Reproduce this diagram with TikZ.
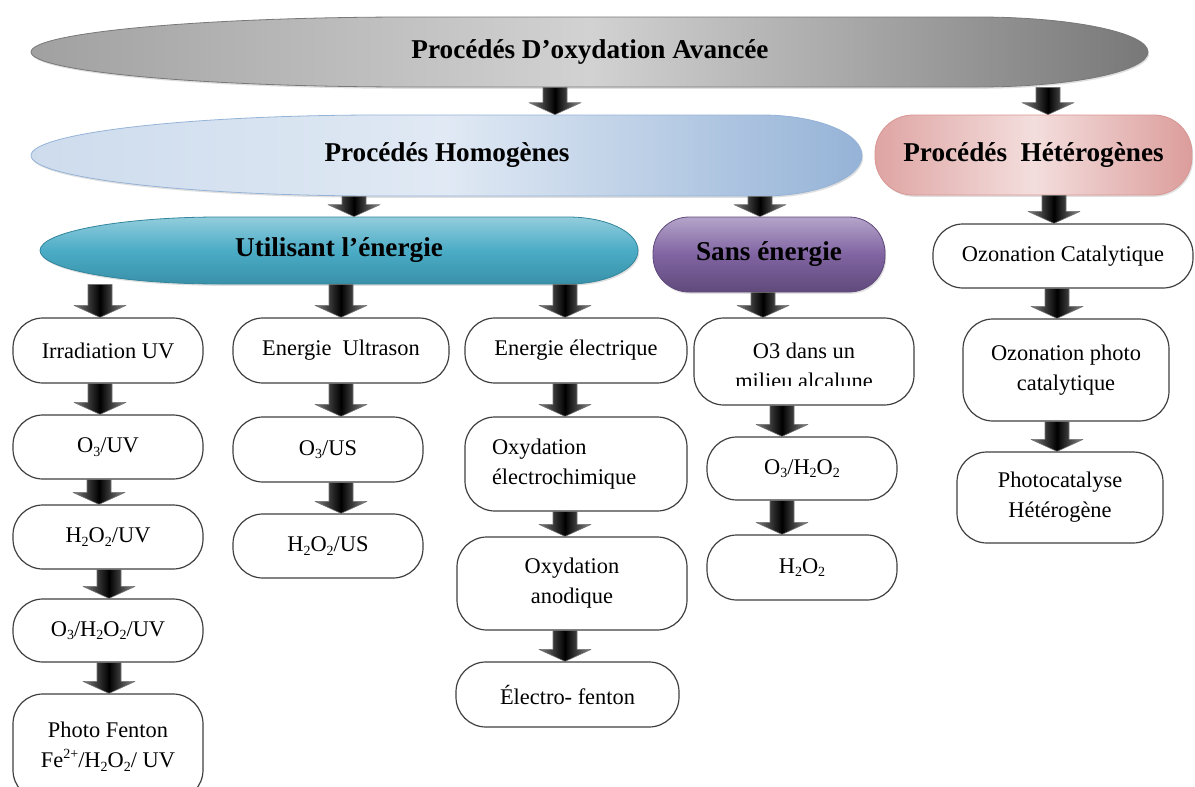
\documentclass[tikz,border=0pt]{standalone}
\usepackage{fontspec}
\setmainfont{Liberation Serif}
\usetikzlibrary{calc,shadows}

\definecolor{grisC}{RGB}{210,210,210}
\definecolor{grisF}{RGB}{120,120,120}
\definecolor{bleuC}{RGB}{224,233,244}
\definecolor{bleuF}{RGB}{149,179,215}
\definecolor{turqC}{RGB}{146,205,220}
\definecolor{turqM}{RGB}{75,172,198}
\definecolor{turqF}{RGB}{49,133,156}
\definecolor{violC}{RGB}{180,164,201}
\definecolor{violM}{RGB}{128,100,162}
\definecolor{violF}{RGB}{96,74,123}
\definecolor{roseC}{RGB}{243,222,221}
\definecolor{roseF}{RGB}{217,150,148}

\tikzset{
  boite/.style={draw=black!75, line width=0.6pt, fill=white, rounded corners=15pt,
    align=center, inner sep=0pt, font=\fontsize{11.2}{15}\selectfont},
  titre/.style={inner sep=0pt, font=\fontsize{13.6}{16}\selectfont\bfseries},
  ombre/.style={drop shadow={opacity=0.25, shadow xshift=0.6pt, shadow yshift=-0.9pt}},
  fleche/.style={left color=black!50, right color=black!45, middle color=black,
    draw=black!55, line width=0.3pt},
}

% indices et exposants plus petits
\newcommand{\ind}[1]{\raisebox{-0.35ex}{\fontsize{7}{7}\selectfont #1}}
\newcommand{\expo}[1]{\raisebox{0.9ex}{\fontsize{7}{7}\selectfont #1}}

% forme allongee : x1, x2, y1, y2, demi-axe gauche, demi-axe droit, options
\newcommand{\capsule}[7]{%
  \path[#7] ({#1},{(#3+#4)/2})
    .. controls ({#1},{(#3+#4)/2-0.276*(#4-#3)}) and ({#1+0.448*#5},{#3}) .. ({#1+#5},{#3})
    -- ({#2-#6},{#3})
    .. controls ({#2-0.448*#6},{#3}) and ({#2},{(#3+#4)/2-0.276*(#4-#3)}) .. ({#2},{(#3+#4)/2})
    .. controls ({#2},{(#3+#4)/2+0.276*(#4-#3)}) and ({#2-0.448*#6},{#4}) .. ({#2-#6},{#4})
    -- ({#1+#5},{#4})
    .. controls ({#1+0.448*#5},{#4}) and ({#1},{(#3+#4)/2+0.276*(#4-#3)}) .. ({#1},{(#3+#4)/2})
    -- cycle;}

% grosse fleche : abscisse, noeud de depart, noeud d'arrivee
\newcommand{\fleche}[3]{%
  \path[fleche] let \p1=(#2.south), \p2=(#3.north), \p3=(#1,0) in
    (\x3-6pt,\y1) -- (\x3+6pt,\y1) -- (\x3+6pt,\y2+6pt) -- (\x3+13pt,\y2+6pt)
    -- (\x3,\y2) -- (\x3-13pt,\y2+6pt) -- (\x3-6pt,\y2+6pt) -- cycle;}

\begin{document}
\begin{tikzpicture}[x=0.5pt, y=-0.5pt, line join=round]
  \useasboundingbox (0,0) rectangle (1195,787);

  % Formes des grands titres
  \capsule{31}{1148}{17}{87}{380}{170}{ombre, draw=grisF, line width=0.4pt,
    left color=grisF!55!grisC, right color=grisF, middle color=grisC}
  \capsule{31}{862}{115}{196}{350}{100}{ombre, draw=bleuF, line width=0.4pt,
    left color=bleuC!75!bleuF, right color=bleuF, middle color=bleuC}
  \capsule{40}{638}{217}{284}{180}{70}{ombre, draw=turqF, line width=0.4pt,
    top color=turqC, bottom color=turqF!70!turqM, middle color=turqM}

  % Titres
  \node[titre, minimum width=558.5pt, minimum height=35pt] (poa) at (590,52)
    {Procédés D’oxydation Avancée};
  \node[titre, minimum width=415.5pt, minimum height=40.5pt] (homo) at (447,155.5)
    {Procédés Homogènes};
  \node[titre, ombre, draw=roseF, line width=0.4pt, rounded corners=19pt,
    left color=roseF!80!roseC, right color=roseF!90!roseC, middle color=roseC,
    minimum width=158.5pt, minimum height=40pt] (hetero) at (1033.5,155)
    {Procédés~ Hétérogènes};
  \node[titre, minimum width=299pt, minimum height=33.5pt] (util) at (339,250.5)
    {Utilisant l’énergie};
  \node[titre, ombre, draw=violF, line width=0.4pt, rounded corners=18pt,
    top color=violC, bottom color=violF, middle color=violM,
    minimum width=116pt, minimum height=37.5pt] (sans) at (769,254.5)
    {Sans énergie};

  % Colonne UV
  \node[boite, minimum width=95pt, minimum height=32.5pt] (irr) at (108,350.5) {Irradiation UV};
  \node[boite, minimum width=95pt, minimum height=32pt] (o3uv) at (108,447) {O\ind{3}/UV};
  \node[boite, minimum width=95pt, minimum height=32pt] (h2uv) at (108,537)
    {H\ind{2}O\ind{2}/UV};
  \node[boite, minimum width=95pt, minimum height=31.5pt] (o3h2uv) at (108,630.5)
    {O\ind{3}/H\ind{2}O\ind{2}/UV};
  \node[boite, minimum width=95pt, minimum height=53pt] (fenton) at (108,747)
    {Photo Fenton\\Fe\expo{2+}/H\ind{2}O\ind{2}/ UV};

  % Colonne ultrason
  \node[boite, minimum width=108pt, minimum height=32.5pt] (ultra) at (341,350.5) {Energie~ Ultrason};
  \node[boite, minimum width=95pt, minimum height=32.5pt] (o3us) at (328,449.5) {O\ind{3}/US};
  \node[boite, minimum width=95pt, minimum height=32pt] (h2us) at (328,546)
    {H\ind{2}O\ind{2}/US};

  % Colonne electrique
  \node[boite, minimum width=111pt, minimum height=32.5pt] (elec) at (576,350.5) {Energie électrique};
  \node[boite, align=left, text width=84pt, minimum width=111pt, minimum height=47pt] (elchim)
    at (576,464) {Oxydation\\électrochimique};
  \node[boite, minimum width=115pt, minimum height=46.5pt] (anod) at (572,583.5) {Oxydation\\anodique};
  \node[boite, minimum width=111.5pt, minimum height=32.5pt] (efent) at (567.5,694.5) {Électro- fenton};

  % Colonne sans energie
  \node[boite, minimum width=110pt, minimum height=43.5pt] (o3alc) at (804,361.5) {};
  \begin{scope}
    \clip (694,318) rectangle (914,385);
    \node[boite, draw=none, fill=none] (o3alctxt) at (804,366) {O3 dans un\\milieu alcalune};
  \end{scope}
  \node[boite, minimum width=95pt, minimum height=31.5pt] (o3h2) at (802,468.5)
    {O\ind{3}/H\ind{2}O\ind{2}};
  \node[boite, minimum width=95pt, minimum height=32.5pt] (h2o2) at (802,567.5)
    {H\ind{2}O\ind{2}};

  % Colonne heterogene
  \node[boite, minimum width=130pt, minimum height=32pt] (ozcat) at (1063,256) {Ozonation Catalytique};
  \node[boite, minimum width=103pt, minimum height=51pt] (ozphoto) at (1066,370)
    {Ozonation photo\\catalytique};
  \node[boite, minimum width=103pt, minimum height=45.5pt] (photocat) at (1060,497.5)
    {Photocatalyse\\Hétérogène};

  % Fleches
  \foreach \xf/\a/\b in {555/poa/homo, 1048/poa/hetero, 354/homo/util, 760/homo/sans,
      1054/hetero/ozcat, 100/util/irr, 341/util/ultra, 565/util/elec, 763/sans/o3alc,
      100/irr/o3uv, 99/o3uv/h2uv, 109/h2uv/o3h2uv, 109/o3h2uv/fenton,
      341/ultra/o3us, 341/o3us/h2us, 565/elec/elchim, 565/elchim/anod, 565/anod/efent,
      782/o3alc/o3h2, 782/o3h2/h2o2, 1057/ozcat/ozphoto, 1057/ozphoto/photocat}
    \fleche{\xf}{\a}{\b};
\end{tikzpicture}
\end{document}
